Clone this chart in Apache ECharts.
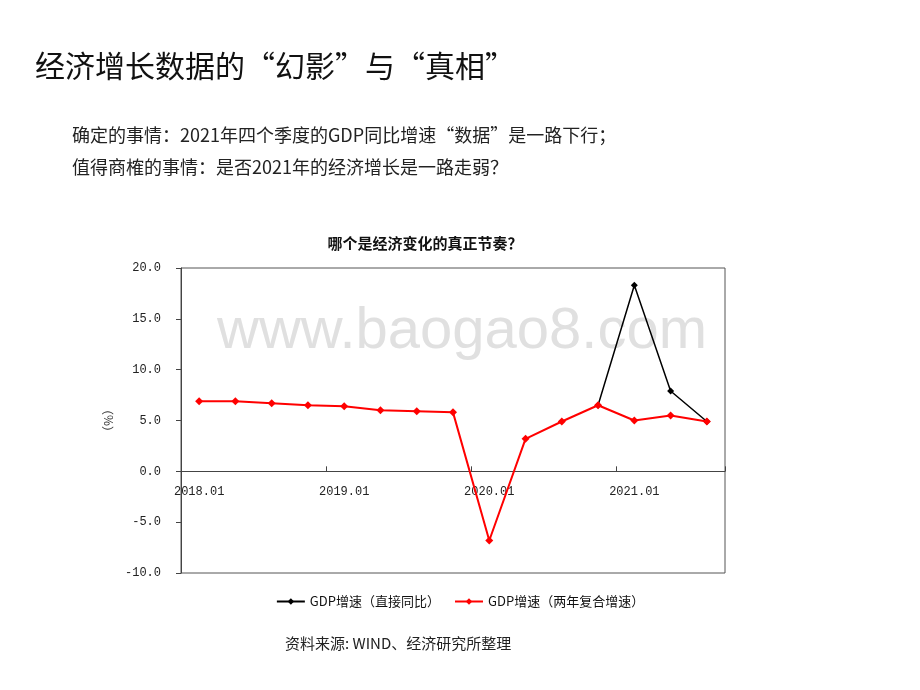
<!DOCTYPE html>
<html>
<head>
<meta charset="utf-8">
<script src="https://cdn.jsdelivr.net/npm/echarts@6/dist/echarts.min.js"></script>
<style>
html,body{margin:0;padding:0;background:#fff;}
#main{width:920px;height:690px;}
</style>
</head>
<body>
<div id="main"></div>
<script>
const categories = ['2018.01','2018.04','2018.07','2018.10','2019.01','2019.04','2019.07','2019.10','2020.01','2020.04','2020.07','2020.10','2021.01','2021.04','2021.07'];
const directYoY = [null,null,null,null,null,null,null,null,null,null,null,6.5,18.3,7.9,4.9];
const twoYearCompound = [6.9,6.9,6.7,6.5,6.4,6.0,5.9,5.8,-6.8,3.2,4.9,6.5,5.0,5.5,4.9];
const yTicks = [-10,-5,0,5,10,15,20];
const seriesNames = ['GDP增速（直接同比）','GDP增速（两年复合增速）'];

const chart = echarts.init(document.getElementById('main'));
const cjk = '"Noto Sans CJK SC", sans-serif';
const gridTop = 268, gridBottom = 117, H = 690;
const yMin = -10, yMax = 20;
const plotH = H - gridTop - gridBottom;
const zeroOffset = -plotH * (0 - yMin) / (yMax - yMin);
chart.setOption({
  animation:false,
  backgroundColor:'#fff',
  title:{
    text:'哪个是经济变化的真正节奏？',
    left:420, top:231, textAlign:'center',
    textStyle:{fontFamily:cjk,fontSize:15,fontWeight:'bold',color:'#111'}
  },
  graphic:[
    {type:'text',left:35,top:51,style:{text:'经济增长数据的“幻影”与“真相”',font:'30px "Noto Sans CJK SC"',fill:'#111'}},
    {type:'text',left:72,top:126,style:{text:'确定的事情：2021年四个季度的GDP同比增速“数据”是一路下行；',font:'18px "Noto Sans CJK SC"',fill:'#222'}},
    {type:'text',left:72,top:158,style:{text:'值得商榷的事情：是否2021年的经济增长是一路走弱？',font:'18px "Noto Sans CJK SC"',fill:'#222'}},
    {type:'text',left:285,top:636,style:{text:'资料来源: WIND、经济研究所整理',font:'15px "Noto Sans CJK SC"',fill:'#222'}},
    {type:'text',left:217,top:303,z:-1,style:{text:'www.baogao8.com',font:'58px "Liberation Sans"',fill:'#e0e0e0'}}
  ],
  legend:{
    bottom:77,left:'center',
    itemWidth:28,itemHeight:8,itemGap:14,
    data:seriesNames,
    textStyle:{fontFamily:cjk,fontSize:13,color:'#111'}
  },
  grid:{left:181,right:195,top:gridTop,bottom:gridBottom,show:true,borderColor:'#555',borderWidth:1},
  xAxis:{
    type:'category',data:categories,boundaryGap:true,position:'bottom',offset:zeroOffset,
    axisLine:{onZero:false,lineStyle:{color:'#444',width:1}},
    axisTick:{show:true,inside:true,interval:3,length:5,lineStyle:{color:'#444'}},
    axisLabel:{interval:3,margin:14,fontFamily:'"Liberation Mono", monospace',fontSize:12,color:'#222'}
  },
  yAxis:{
    type:'value',min:yMin,max:yMax,interval:5,
    name:'（%）',nameLocation:'middle',nameRotate:90,nameGap:62,
    nameTextStyle:{fontFamily:cjk,fontSize:12,color:'#333'},
    axisLine:{show:true,lineStyle:{color:'#444'}},
    axisTick:{show:true,length:5,lineStyle:{color:'#444'}},
    splitLine:{show:false},
    axisLabel:{margin:20,fontFamily:'"Liberation Mono", monospace',fontSize:12,color:'#222',
      formatter:function(v){return yTicks.indexOf(v)>=0?v.toFixed(1):'';}}
  },
  series:[
    {name:seriesNames[0],type:'line',data:directYoY,symbol:'diamond',symbolSize:7,
     itemStyle:{color:'#000'},lineStyle:{color:'#000',width:1.5},z:2},
    {name:seriesNames[1],type:'line',data:twoYearCompound,symbol:'diamond',symbolSize:8,
     itemStyle:{color:'#f00'},lineStyle:{color:'#f00',width:2},z:3}
  ]
});
</script>
</body>
</html>
